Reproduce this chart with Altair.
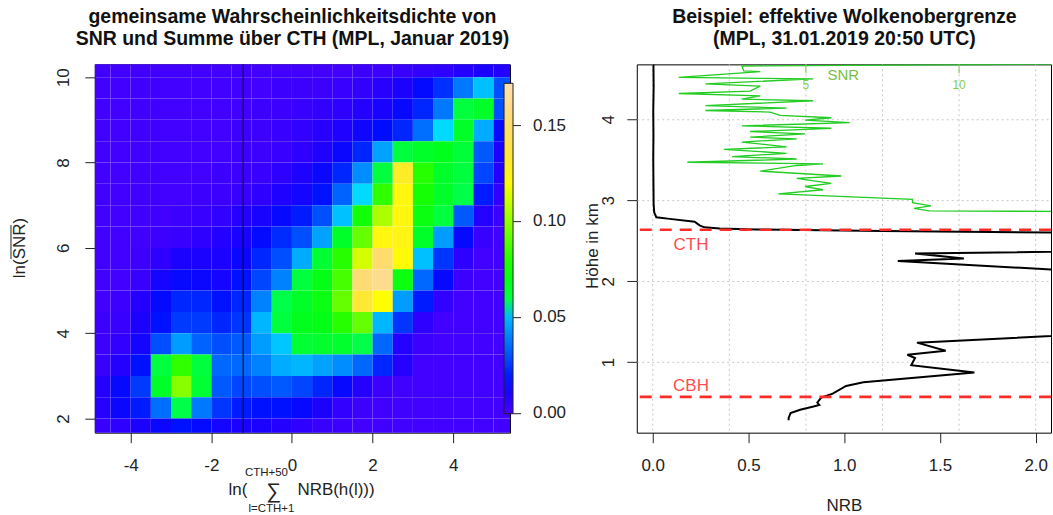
import altair as alt
import pandas as pd
import colorsys

FONT = "Liberation Sans"

# ---------------- left panel: joint density (values x 1/1000) ----------------
grid_x = [-4.75, -4.25, -3.75, -3.25, -2.75, -2.25, -1.75, -1.25, -0.75, -0.25,
          0.25, 0.75, 1.25, 1.75, 2.25, 2.75, 3.25, 3.75, 4.25, 4.75, 5.25]
grid_y = [10.25, 9.75, 9.25, 8.75, 8.25, 7.75, 7.25, 6.75, 6.25, 5.75,
          5.25, 4.75, 4.25, 3.75, 3.25, 2.75, 2.25, 1.75]
density_milli = [
    [2, 2, 2, 2, 2, 2, 2, 2, 2, 2, 2, 2, 2, 3, 3, 4, 5, 6, 8, 10, 8],
    [2, 2, 2, 2, 2, 2, 2, 2, 2, 3, 3, 3, 4, 5, 7, 10, 16, 24, 38, 52, 30],
    [2, 2, 2, 2, 2, 2, 2, 2, 3, 3, 4, 5, 6, 8, 11, 15, 22, 38, 62, 66, 30],
    [2, 2, 2, 2, 2, 2, 2, 3, 3, 4, 5, 7, 9, 13, 17, 22, 36, 57, 66, 48, 15],
    [2, 2, 2, 2, 2, 2, 2, 3, 3, 4, 6, 9, 14, 22, 46, 62, 66, 68, 63, 32, 10],
    [2, 2, 2, 2, 2, 2, 3, 3, 4, 6, 9, 14, 22, 42, 62, 128, 80, 66, 62, 28, 8],
    [2, 2, 2, 2, 2, 3, 3, 4, 6, 9, 12, 18, 34, 57, 82, 120, 76, 66, 60, 20, 5],
    [2, 2, 2, 2, 3, 4, 5, 8, 11, 15, 20, 30, 52, 75, 105, 120, 72, 62, 32, 8, 3],
    [2, 2, 2, 3, 4, 6, 8, 11, 16, 23, 30, 46, 66, 92, 120, 122, 66, 45, 15, 4, 2],
    [2, 2, 3, 6, 10, 10, 10, 14, 22, 30, 48, 64, 80, 112, 150, 118, 52, 25, 6, 2, 2],
    [2, 2, 4, 12, 15, 14, 12, 18, 28, 40, 62, 70, 86, 152, 160, 72, 35, 15, 3, 2, 2],
    [2, 3, 8, 16, 22, 22, 18, 22, 40, 60, 66, 72, 92, 132, 116, 45, 20, 5, 2, 2, 2],
    [3, 4, 10, 18, 26, 26, 22, 25, 50, 62, 68, 70, 80, 92, 50, 25, 6, 2, 2, 2, 2],
    [3, 5, 12, 30, 45, 34, 30, 32, 45, 53, 64, 65, 65, 60, 35, 8, 3, 2, 2, 2, 2],
    [4, 8, 18, 62, 82, 62, 35, 35, 40, 48, 50, 46, 42, 35, 22, 8, 2, 2, 2, 2, 2],
    [8, 15, 26, 66, 98, 64, 32, 28, 30, 32, 28, 22, 15, 8, 3, 2, 2, 2, 2, 2, 2],
    [8, 14, 20, 36, 60, 38, 25, 20, 18, 18, 15, 10, 5, 3, 2, 2, 2, 2, 2, 2, 2],
    [4, 6, 10, 14, 18, 16, 12, 10, 10, 8, 6, 4, 3, 2, 2, 2, 2, 2, 2, 2, 2],
]
cell_half = 0.25
split_x = [-1.21]
legend_values = [0.0, 0.05, 0.10, 0.15]
density_max = 0.172

# ---------------- right panel: example profile ----------------
nrb_height = [4.68, 4.40, 4.10, 3.80, 3.50, 3.20, 2.95, 2.85, 2.79, 2.77, 2.735,
              2.69, 2.665, 2.65, 2.64, 2.62, 2.58, 2.39, 2.343, 2.28, 2.25, 2.02,
              1.43, 1.24, 1.14, 1.09, 1.05, 0.96, 0.87, 0.75, 0.705, 0.61, 0.56,
              0.50, 0.47, 0.45, 0.41, 0.37, 0.31, 0.28]
nrb_value = [0.004, 0.005, 0.003, 0.004, 0.003, 0.004, 0.005, 0.008, 0.019, 0.089, 0.219,
             0.245, 0.27, 0.35, 0.54, 1.2, 3.0, 3.0, 1.37, 1.625, 1.28, 3.0,
             3.0, 1.38, 1.53, 1.33, 1.37, 1.35, 1.68, 1.10, 1.01, 0.94, 0.88,
             0.86, 0.87, 0.84, 0.77, 0.72, 0.71, 0.71]
snr_height = [4.685, 4.66, 4.60, 4.59, 4.52, 4.50, 4.44, 4.41, 4.35, 4.32, 4.29,
              4.25, 4.23, 4.17, 4.14, 4.11, 4.09, 4.05, 4.02, 3.99, 3.96, 3.92,
              3.89, 3.85, 3.82, 3.78, 3.76, 3.72, 3.66, 3.63, 3.58, 3.54, 3.51,
              3.47, 3.45, 3.43, 3.36, 3.30, 3.27, 3.21, 3.17, 3.13, 3.08, 3.01,
              2.97, 2.93, 2.90, 2.87, 2.86]
snr_value = [14.0, 2.91, 2.97, 3.51, 0.85, 5.24, 1.72, 3.51, 3.18, 0.85, 3.51,
             2.91, 5.24, 1.72, 4.37, 1.72, 3.83, 4.16, 5.83, 4.97, 6.43, 2.91,
             5.83, 3.18, 4.97, 3.18, 4.70, 2.91, 4.37, 2.32, 4.37, 2.59, 4.70,
             1.13, 5.56, 4.70, 3.51, 6.16, 4.70, 5.83, 4.97, 5.56, 4.10, 8.48,
             8.48, 9.08, 8.53, 9.03, 14.0]
cth_km = [2.635]
cbh_km = [0.57]
snr_grid = [0, 2.5, 5, 7.5, 10, 12.5]
snr_ticks = [5, 10]
snr_tick_labels = ["5", "10"]
snr_title_pos = [6.22]

# ---------------- colour scale (R topo.colors style) ----------------
def seg(h0, h1, s0, s1, d0, d1, n):
    out = []
    for k in range(n):
        t = k / (n - 1)
        r, g, b = colorsys.hsv_to_rgb(h0 + (h1 - h0) * t, s0 + (s1 - s0) * t, 1.0)
        out.append((d0 + (d1 - d0) * t,
                    "#%02x%02x%02x" % (round(r * 255), round(g * 255), round(b * 255))))
    return out

b1 = density_max * 22 / 64
b2 = density_max * 43 / 64
stops = (seg(43 / 60, 31 / 60, 1, 1, 0.0, b1 - 1e-5, 8)
         + seg(23 / 60, 11 / 60, 1, 1, b1, b2 - 1e-5, 7)
         + seg(10 / 60, 6 / 60, 1, 0.3, b2, density_max, 6))
# tiny margin below zero so that the "0.00" label is centred on the bar end
stops = [(-0.0002, stops[0][1])] + stops[1:]
color_scale = alt.Scale(domain=[s[0] for s in stops], range=[s[1] for s in stops],
                        type="linear", interpolate="rgb")

# ---------------- helpers ----------------
one = pd.DataFrame({"k": [0]})


def txt(s, x, y, size=17, weight="normal", angle=0, align="center",
        baseline="middle", color="#111111"):
    kw = dict(fontSize=size, fontWeight=weight, align=align, baseline=baseline,
              color=color, font=FONT)
    if angle:
        kw["angle"] = angle
    return alt.Chart(pd.DataFrame({"t": [s]})).mark_text(**kw).encode(
        text="t:N", x=alt.value(x), y=alt.value(y))


def axis(values, pad, fmt=None, vertical=False, grid=False, expr=None):
    kw = dict(values=values, title=None, tickSize=10, labelPadding=pad,
              labelFontSize=17, labelFont=FONT, labelColor="#222222",
              tickColor="#222222", domain=False, grid=grid,
              labelBaseline="alphabetic", labelAlign="center")
    if fmt:
        kw["format"] = fmt
    if expr:
        kw["labelExpr"] = expr
    if vertical:
        kw["labelAngle"] = 270
    if grid:
        kw.update(gridDash=[2, 3], gridColor="#c8c8c8", gridWidth=1)
    return alt.Axis(**kw)


# ---------------- left panel ----------------
rows = []
for yi, yv in enumerate(grid_y):
    for xi, xv in enumerate(grid_x):
        rows.append({"x0": xv - cell_half, "x1": xv + cell_half,
                     "y0": yv - cell_half, "y1": yv + cell_half,
                     "v": density_milli[yi][xi] / 1000})
cells = pd.DataFrame(rows)

xs_l = alt.Scale(domain=[-4.89, 5.41], nice=False, zero=False)
ys_l = alt.Scale(domain=[1.67, 10.30], nice=False, zero=False)
ax_xl = axis([-4, -2, 0, 2, 4], 28, expr="datum.value + ''")
ax_yl = axis([2, 4, 6, 8, 10], 16, vertical=True, expr="datum.value + ''")

legend = alt.Legend(type="gradient", orient="none", legendX=410, legendY=19,
                    direction="vertical", gradientLength=331, gradientThickness=9,
                    title=None, values=legend_values, format=".2f", labelFontSize=17,
                    labelFont=FONT, labelColor="#222222", labelOffset=20,
                    labelBaseline="middle", labelOverlap=False,
                    gradientStrokeColor="#222222", gradientStrokeWidth=1,
                    padding=0, offset=0)

heat = alt.Chart(cells).mark_rect(clip=True).encode(
    x=alt.X("x0:Q", scale=xs_l, axis=ax_xl), x2="x1:Q",
    y=alt.Y("y0:Q", scale=ys_l, axis=ax_yl), y2="y1:Q",
    color=alt.Color("v:Q", scale=color_scale, legend=legend))

vline = alt.Chart(pd.DataFrame({"x": split_x})).mark_rule(
    color="black", strokeWidth=1).encode(x=alt.X("x:Q", scale=xs_l, axis=ax_xl))

cb_ticks = alt.Chart(pd.DataFrame({"v": legend_values})).mark_rule(
    color="#222222", strokeWidth=1).encode(
    y=alt.Y("v:Q", scale=alt.Scale(domain=[0, density_max], range=[350, 19]), axis=None),
    x=alt.value(419), x2=alt.value(427))

anchor = alt.Chart(one).mark_rect(opacity=0).encode(
    x=alt.value(-94), x2=alt.value(959), y=alt.value(-63), y2=alt.value(452))

left_texts = [
    txt("gemeinsame Wahrscheinlichkeitsdichte von", 198, -47, size=19.5, weight="bold"),
    txt("SNR und Summe über CTH (MPL, Januar 2019)", 198, -25, size=19.5, weight="bold"),
    txt("ln(SNR)", -70, 184, angle=270, baseline="alphabetic", color="#222222"),
    txt("ln(", 134, 431, align="left", baseline="alphabetic", color="#222222"),
    txt("\u2211", 179, 434, size=21, baseline="alphabetic", color="#222222"),
    txt("CTH+50", 172, 412, size=11.5, baseline="alphabetic", color="#222222"),
    txt("l=CTH+1", 177, 448, size=11.5, baseline="alphabetic", color="#222222"),
    txt("NRB(h(l)))", 203, 431, align="left", baseline="alphabetic", color="#222222"),
]
overline = alt.Chart(one).mark_rule(color="#222222", strokeWidth=1).encode(
    x=alt.value(-84), y=alt.value(161), y2=alt.value(195))

left = alt.layer(heat, vline, cb_ticks, overline, *left_texts, anchor).resolve_scale(
    y="independent").properties(width=416, height=369)

# ---------------- right panel ----------------
xs_nrb = alt.Scale(domain=[-0.083, 2.08], nice=False, zero=False)
xs_snr = alt.Scale(domain=[-0.52, 13.0], nice=False, zero=False)
ys_h = alt.Scale(domain=[0.127, 4.68], nice=False, zero=False)
ax_xr = axis([0, 0.5, 1, 1.5, 2], 28, fmt=".1f")
ax_yr = axis([1, 2, 3, 4], 13, fmt="d", vertical=True, grid=True)

nrb_df = pd.DataFrame({"nrb": nrb_value, "h": nrb_height, "i": range(len(nrb_value))})
snr_df = pd.DataFrame({"snr": snr_value, "h": snr_height, "i": range(len(snr_value))})

grid_v = alt.Chart(pd.DataFrame({"snr": snr_grid})).mark_rule(
    color="#c8c8c8", strokeDash=[2, 3], strokeWidth=1).encode(
    x=alt.X("snr:Q", scale=xs_snr, axis=None))
snr_line = alt.Chart(snr_df).mark_line(color="#22cc22", strokeWidth=1.3, clip=True).encode(
    x=alt.X("snr:Q", scale=xs_snr, axis=None),
    y=alt.Y("h:Q", scale=ys_h, axis=ax_yr), order="i:Q")
snr_tk = alt.Chart(pd.DataFrame({"snr": snr_ticks})).mark_rule(
    color="#77c850", strokeWidth=1).encode(
    x=alt.X("snr:Q", scale=xs_snr, axis=None), y=alt.value(0), y2=alt.value(9))
snr_lab = alt.Chart(pd.DataFrame({"snr": snr_ticks, "t": snr_tick_labels})).mark_text(
    color="#88cc44", fontSize=12, font=FONT, baseline="middle").encode(
    x=alt.X("snr:Q", scale=xs_snr, axis=None), y=alt.value(21), text="t:N")
snr_ttl = alt.Chart(pd.DataFrame({"snr": snr_title_pos, "t": ["SNR"]})).mark_text(
    color="#77c044", fontSize=15, font=FONT, baseline="middle").encode(
    x=alt.X("snr:Q", scale=xs_snr, axis=None), y=alt.value(11), text="t:N")
snr_group = alt.layer(grid_v, snr_line, snr_tk, snr_lab, snr_ttl)

nrb_line = alt.Chart(nrb_df).mark_line(color="black", strokeWidth=2, clip=True).encode(
    x=alt.X("nrb:Q", scale=xs_nrb, axis=ax_xr),
    y=alt.Y("h:Q", scale=ys_h, axis=ax_yr), order="i:Q")
cloud_lines = alt.Chart(pd.DataFrame({"h": cth_km + cbh_km})).mark_rule(
    color="#ff2a2a", strokeWidth=2.6, strokeDash=[12, 8]).encode(
    y=alt.Y("h:Q", scale=ys_h, axis=ax_yr))
cth_lab = alt.Chart(pd.DataFrame({"nrb": [0.2], "h": cth_km, "t": ["CTH"]})).mark_text(
    color="#ff4d4d", fontSize=17, font=FONT, baseline="middle", dy=15).encode(
    x=alt.X("nrb:Q", scale=xs_nrb, axis=ax_xr),
    y=alt.Y("h:Q", scale=ys_h, axis=ax_yr), text="t:N")
cbh_lab = alt.Chart(pd.DataFrame({"nrb": [0.2], "h": cbh_km, "t": ["CBH"]})).mark_text(
    color="#ff4d4d", fontSize=17, font=FONT, baseline="middle", dy=-11).encode(
    x=alt.X("nrb:Q", scale=xs_nrb, axis=ax_xr),
    y=alt.Y("h:Q", scale=ys_h, axis=ax_yr), text="t:N")
nrb_group = alt.layer(nrb_line, cloud_lines, cth_lab, cbh_lab)

right_texts = [
    txt("Beispiel: effektive Wolkenobergrenze", 208, -47, size=19.5, weight="bold"),
    txt("(MPL, 31.01.2019 20:50 UTC)", 208, -25, size=19.5, weight="bold"),
    txt("Höhe in km", -44, 182, angle=270, color="#222222"),
    txt("NRB", 208, 442, color="#222222"),
]

right = alt.layer(snr_group, nrb_group, *right_texts).resolve_scale(
    x="independent").properties(width=415, height=369)

chart = alt.hconcat(left, right, spacing=127, bounds="flush").properties(
    padding=0, autosize=alt.AutoSizeParams(type="pad")
).configure(font=FONT).configure_view(stroke="black", strokeWidth=1)

chart.save("out.html", embed_options={"renderer": "svg", "actions": False})
